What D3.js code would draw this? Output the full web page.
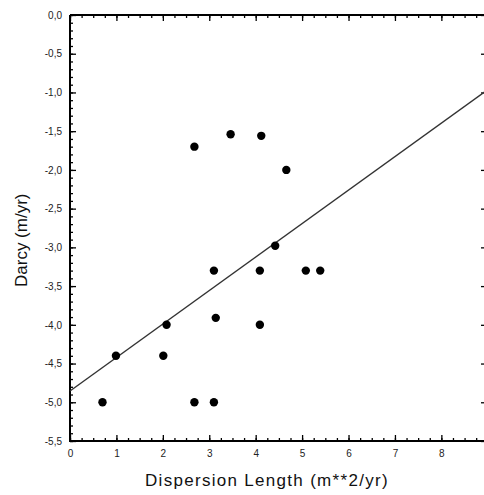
<!DOCTYPE html>
<html>
<head>
<meta charset="utf-8">
<script src="https://cdn.jsdelivr.net/npm/d3@7"></script>
<style>
  body { margin: 0; background: #fff; }
  svg { display: block; font-family: "Liberation Sans", Arial, sans-serif; }
</style>
</head>
<body>
<div id="chart"></div>
<script>
// data
const dispersion = [0.70, 0.99, 2.01, 2.08, 2.68, 3.10, 3.14, 4.09, 2.68, 3.46, 4.12, 4.66, 4.42, 3.10, 4.09, 5.08, 5.39];
const darcy      = [-5.0, -4.4, -4.4, -4.0, -5.0, -5.0, -3.91, -4.0, -1.70, -1.54, -1.56, -2.0, -2.98, -3.3, -3.3, -3.3, -3.3];
const fitX = [0, 8.94];
const fitY = [-4.855, -0.99];
const xTicks = [0, 1, 2, 3, 4, 5, 6, 7, 8];
const yTicks = [0, -0.5, -1, -1.5, -2, -2.5, -3, -3.5, -4, -4.5, -5, -5.5];

const W = 484, H = 495;
const plot = {left: 70, right: 485, top: 15, bottom: 441};

const svg = d3.select('#chart').append('svg')
  .attr('width', W).attr('height', H);

const x = d3.scaleLinear().domain([0, 8.94]).range([plot.left, plot.right]);
const y = d3.scaleLinear().domain([-5.5, 0]).range([plot.bottom, plot.top]);

const loc = d3.formatLocale({decimal: ",", thousands: ".", grouping: [3], currency: ["", ""], minus: "-"});
const fmt1 = loc.format(".1f");

const xMinor = d3.range(0, 8.94, 0.25);
const yMinor = d3.range(0, 56).map(i => -i / 10);

// minor ticks
svg.append('g').attr('transform', `translate(0,${plot.bottom})`)
  .call(d3.axisBottom(x).tickValues(xMinor).tickSize(-3).tickFormat(''));
svg.append('g').attr('transform', `translate(0,${plot.top})`)
  .call(d3.axisTop(x).tickValues(xMinor).tickSize(-3).tickFormat(''));
svg.append('g').attr('transform', `translate(${plot.left},0)`)
  .call(d3.axisLeft(y).tickValues(yMinor).tickSize(-3).tickFormat(''));

// major ticks + labels
svg.append('g').attr('transform', `translate(0,${plot.bottom})`)
  .call(d3.axisBottom(x).tickValues(xTicks).tickSize(-6).tickPadding(9).tickFormat(d3.format('d')));
svg.append('g').attr('transform', `translate(0,${plot.top})`)
  .call(d3.axisTop(x).tickValues(xTicks).tickSize(-6).tickFormat(''));
svg.append('g').attr('transform', `translate(${plot.left},0)`)
  .call(d3.axisLeft(y).tickValues(yTicks).tickSize(-6).tickPadding(8).tickFormat(fmt1));
svg.append('g').attr('transform', `translate(${plot.right},0)`)
  .call(d3.axisRight(y).tickValues(yTicks).tickSize(-4).tickFormat(''));

svg.selectAll('.domain').remove();
svg.selectAll('.tick line').attr('stroke', '#000').attr('stroke-width', 1.3);
svg.selectAll('.tick text').attr('fill', '#222').style('font-size', '10px');

// frame
svg.append('path')
  .attr('d', `M${plot.left},${plot.top}H${plot.right}M${plot.left},${plot.top}V${plot.bottom}H${plot.right}`)
  .attr('fill', 'none').attr('stroke', '#000').attr('stroke-width', 2);

// fit line
svg.append('line')
  .attr('x1', x(fitX[0])).attr('y1', y(fitY[0]))
  .attr('x2', x(fitX[1])).attr('y2', y(fitY[1]))
  .attr('stroke', '#333').attr('stroke-width', 1.4);

// points
svg.append('g').selectAll('circle')
  .data(dispersion.map((d, i) => [d, darcy[i]]))
  .join('circle')
  .attr('cx', d => x(d[0]))
  .attr('cy', d => y(d[1]))
  .attr('r', 4.2)
  .attr('fill', '#000');

// titles
svg.append('text')
  .attr('x', 145).attr('y', 486)
  .style('font-size', '17px').style('letter-spacing', '1.3px')
  .attr('fill', '#111')
  .text('Dispersion Length (m**2/yr)');

svg.append('text')
  .attr('transform', 'translate(27,287) rotate(-90)')
  .style('font-size', '17px')
  .attr('fill', '#111')
  .text('Darcy (m/yr)');
</script>
</body>
</html>
